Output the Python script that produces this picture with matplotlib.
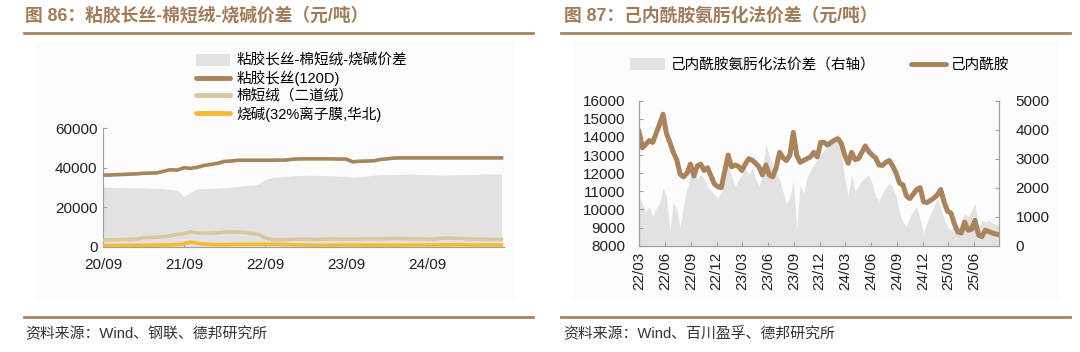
import matplotlib.pyplot as plt
import matplotlib.dates as mdates
from matplotlib.patches import Patch, Rectangle
from matplotlib.lines import Line2D
import pandas as pd

plt.rcParams['font.family'] = ['Liberation Sans', 'Noto Sans CJK SC']

# ---- figure 86: viscose filament / cotton linter / caustic soda (monthly) ----
left_start = '2020-09-01'
left_months = 60
viscose = [36300, 36300, 36500, 36600, 36800, 36900, 37200, 37300, 37400, 38200,
           39000, 38800, 40000, 39700, 40300, 41200, 41700, 42300, 43200, 43400,
           43800, 43800, 43800, 43800, 43800, 43800, 43900, 43900, 44300, 44500,
           44500, 44500, 44500, 44500, 44500, 44400, 44400, 43000, 43300, 43400,
           43500, 44200, 44500, 44900, 45000, 45000, 45000, 45000, 45000, 45000,
           45000, 45000, 45000, 45000, 45000, 45000, 45000, 45000, 45000, 45000]
spread = [30200, 30200, 30000, 30000, 29900, 29800, 29800, 29600, 29500, 29300,
          29000, 28500, 25500, 27500, 29300, 29500, 29600, 29700, 29900, 30200,
          30500, 30800, 31200, 31600, 34000, 35000, 35400, 35600, 36000, 36100,
          36200, 36200, 36100, 36000, 35900, 35800, 35600, 35200, 35500, 35800,
          36200, 36500, 36600, 36600, 36700, 36800, 36800, 36600, 36500, 36400,
          36200, 36300, 36400, 36500, 36600, 36700, 36800, 36900, 36900, 36900]
linter = [3400, 3500, 3500, 3600, 3700, 3900, 4600, 4700, 4800, 5100,
          5500, 6200, 6600, 7600, 7000, 6800, 6900, 7100, 7400, 7500,
          7400, 7300, 6600, 6200, 4500, 3700, 3500, 3600, 3700, 3800,
          3800, 3700, 3700, 3800, 3900, 3900, 3800, 3800, 3900, 4000,
          4000, 3900, 4000, 4200, 4100, 4000, 3900, 3900, 3800, 3800,
          4300, 4400, 4200, 4100, 3900, 3800, 3800, 3700, 3700, 3700]
caustic = [600, 550, 600, 650, 700, 700, 750, 750, 800, 850,
           900, 1100, 1500, 2300, 1800, 1300, 1100, 1000, 1000, 1100,
           1150, 1150, 1200, 1200, 1250, 1200, 1150, 1100, 1000, 900,
           850, 800, 750, 700, 750, 800, 850, 850, 850, 800,
           800, 800, 800, 800, 800, 800, 850, 850, 900, 900,
           900, 950, 950, 950, 900, 850, 850, 850, 850, 850]
left_labels = ['粘胶长丝-棉短绒-烧碱价差', '粘胶长丝(120D)', '棉短绒（二道绒）', '烧碱(32%离子膜,华北)']

# ---- figure 87: caprolactam (left axis) and ammoximation spread (right axis) ----
right_start = '2022-03-01'
right_end = '2025-08-28'
caprolactam = [14300, 13400, 13600, 13800, 13700, 14200, 14700, 15250, 14200, 13700,
               13150, 12750, 11950, 11800, 12000, 12500, 11850, 12400, 12500, 12150,
               12300, 11850, 11400, 11250, 11200, 12100, 13000, 12350, 12450, 12380,
               12150, 12500, 12800, 12720, 12550, 12350, 11900, 12450, 11900, 11800,
               12300, 13150, 12850, 12700, 13000, 14250, 13000, 12600, 12700, 12800,
               12900, 13150, 12900, 13700, 13700, 13550, 13700, 13820, 13900, 13650,
               13000, 12550, 13150, 12750, 12800, 13150, 13500, 13200, 13000, 12850,
               12450, 12430, 12600, 12700, 12400, 12000, 11450, 11350, 10750, 10600,
               10850, 11100, 11200, 10420, 10380, 10500, 10620, 10800, 11100, 10400,
               9900, 9800, 9200, 8750, 8700, 9300, 8850, 8900, 9400, 8600,
               8500, 8850, 8780, 8700, 8650, 8600]
ammox_spread = [1700, 1450, 1150, 1350, 1000, 1300, 1450, 2000, 1700, 500,
                1500, 1250, 600, 1400, 1950, 2450, 2700, 2300, 2450, 2300,
                2050, 1900, 1750, 1650, 1850, 2200, 2800, 2400, 2050, 2250,
                2450, 2700, 2450, 2700, 2300, 2050, 2450, 3500, 3100, 2750,
                2500, 2300, 1850, 1450, 1650, 2250, 600, 2100, 1800, 2350,
                2600, 2800, 2950, 3150, 3300, 3400, 3600, 3750, 3850, 3200,
                2300, 1700, 2450, 1900, 2050, 2250, 2350, 2450, 2150, 1700,
                1550, 1800, 2000, 2150, 2000, 1700, 1150, 800, 650, 1000,
                1200, 1350, 900, 420, 800, 1100, 1350, 1650, 1350, 900,
                650, 550, 650, 550, 880, 1100, 1000, 1200, 1450, 650,
                880, 820, 880, 770, 750, 700]
right_labels = ['己内酰胺氨肟化法价差（右轴）', '己内酰胺']

brown = '#a9835b'
linter_c = '#d9c7a0'
caustic_c = '#f6b932'
grey_fill = '#e2e2e2'
axis_c = '#a0a0a0'
title_c = '#a07c5a'
rule_c = '#a88362'

fig = plt.figure(figsize=(10.8, 3.52), dpi=100)
W, H = 1080, 352

def fx(px):
    return px / W

def fy(py):
    return 1 - py / H

# light panels behind each chart
for x0, w in [(36, 479), (573, 486)]:
    fig.patches.append(Rectangle((fx(x0), fy(300)), fx(w), 258 / H, transform=fig.transFigure,
                                 facecolor='#fcfcfc', edgecolor='none', zorder=-10))

# titles, rules and sources
fig.text(fx(25), fy(16), '图 86：粘胶长丝-棉短绒-烧碱价差（元/吨）', fontsize=12.8,
         fontweight='bold', color=title_c, va='center')
fig.text(fx(564), fy(16), '图 87：己内酰胺氨肟化法价差（元/吨）', fontsize=12.8,
         fontweight='bold', color=title_c, va='center')
for x0, x1 in [(24, 533), (561, 1070)]:
    fig.add_artist(Line2D([fx(x0), fx(x1)], [fy(33), fy(33)], color=rule_c, lw=2))
    fig.add_artist(Line2D([fx(x0), fx(x1)], [fy(317), fy(317)], color=rule_c, lw=2))
fig.text(fx(25), fy(334), '资料来源：Wind、钢联、德邦研究所', fontsize=10.7, color='#333333', va='center')
fig.text(fx(563), fy(334), '资料来源：Wind、百川盈孚、德邦研究所', fontsize=10.7, color='#333333', va='center')

# ---- left chart ----
ax1 = fig.add_axes([fx(103), fy(246.7), fx(400.5), 118.4 / H])
ax1.patch.set_visible(False)
d1 = pd.date_range(left_start, periods=left_months, freq='MS')
ax1.fill_between(d1, spread, color=grey_fill, lw=0, zorder=1)
ax1.plot(d1, viscose, color=brown, lw=2.6, zorder=3)
ax1.plot(d1, linter, color=linter_c, lw=2.6, zorder=3)
ax1.plot(d1, caustic, color=caustic_c, lw=2.6, zorder=3)
ax1.set_ylim(0, 60000)
ax1.set_yticks([0, 20000, 40000, 60000])
ax1.set_xlim(d1[0], pd.Timestamp('2025-08-10'))
ax1.set_xticks(pd.date_range(left_start, '2024-09-01', freq='12MS'))
ax1.xaxis.set_major_formatter(mdates.DateFormatter('%y/%m'))
for s in ['top', 'right']:
    ax1.spines[s].set_visible(False)
for s in ['left', 'bottom']:
    ax1.spines[s].set_color(axis_c)
    ax1.spines[s].set_linewidth(0.8)
ax1.tick_params(axis='both', direction='in', length=3, color=axis_c, labelsize=11, labelcolor='#222222')
ax1.tick_params(axis='x', pad=8)
ax1.tick_params(axis='y', pad=4)

h1 = [Patch(facecolor=grey_fill, edgecolor='none'),
      Line2D([], [], color=brown, lw=3.5, solid_capstyle='round'),
      Line2D([], [], color=linter_c, lw=3.5, solid_capstyle='round'),
      Line2D([], [], color=caustic_c, lw=3.5, solid_capstyle='round')]
fig.legend(h1, left_labels, loc='upper left', bbox_to_anchor=(fx(196), fy(53)),
           frameon=False, fontsize=10.5, borderpad=0, borderaxespad=0,
           handlelength=2.3, handleheight=0.9, handletextpad=0.5, labelspacing=0.2)

# ---- right chart ----
ax2 = fig.add_axes([fx(639), fy(245.7), fx(360), 145 / H])
ax2r = ax2.twinx()
ax2.set_zorder(ax2r.get_zorder() + 1)
ax2.patch.set_visible(False)
ax2r.patch.set_visible(False)
d2 = pd.date_range(right_start, right_end, periods=len(caprolactam))
ax2r.fill_between(d2, ammox_spread, color=grey_fill, lw=0)
ax2.plot(d2, caprolactam, color=brown, lw=3.6, solid_joinstyle='round')
ax2.set_ylim(8000, 16000)
ax2.set_yticks(range(8000, 16001, 1000))
ax2r.set_ylim(0, 5000)
ax2r.set_yticks(range(0, 5001, 1000))
ax2.set_xlim(d2[0], d2[-1])
ax2.set_xticks(pd.date_range(right_start, '2025-06-01', freq='3MS'))
ax2.xaxis.set_major_formatter(mdates.DateFormatter('%y/%m'))
for a in (ax2, ax2r):
    a.spines['top'].set_visible(False)
    for s in ['left', 'right', 'bottom']:
        a.spines[s].set_color(axis_c)
        a.spines[s].set_linewidth(0.8)
    a.tick_params(axis='both', direction='in', length=3, color=axis_c, labelsize=11, labelcolor='#222222')
ax2.tick_params(axis='x', rotation=90, pad=4)
ax2.tick_params(axis='y', pad=10)
ax2r.tick_params(axis='y', pad=12)

h2 = [Patch(facecolor=grey_fill, edgecolor='none'),
      Line2D([], [], color=brown, lw=3.5, solid_capstyle='round')]
fig.legend(h2, right_labels, loc='upper left', bbox_to_anchor=(fx(630), fy(58)), ncol=2,
           frameon=False, fontsize=10.5, borderpad=0, borderaxespad=0,
           handlelength=2.4, handleheight=0.9, handletextpad=0.4, columnspacing=2.4)

fig.savefig('out.png', dpi=100)
